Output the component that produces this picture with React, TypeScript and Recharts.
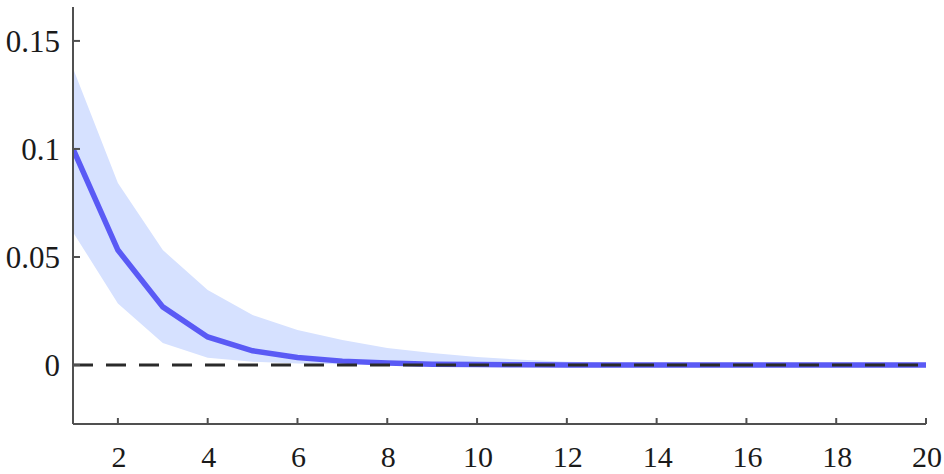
import React from 'react';
import { ComposedChart, Area, Line, XAxis, YAxis, ReferenceLine } from 'recharts';

const periods = [1, 2, 3, 4, 5, 6, 7, 8, 9, 10, 11, 12, 13, 14, 15, 16, 17, 18, 19, 20];
const meanResponse = [0.1, 0.0532, 0.0269, 0.013, 0.0066, 0.0035, 0.0018, 0.0009, 0.0004, 0.0002, 0.0001, 0.00005, 0.00002, 0.00001, 0, 0, 0, 0, 0, 0];
const lowerBand = [0.0615, 0.0285, 0.0102, 0.0034, 0.0015, 0.0007, 0.0003, 0.0001, 0.00005, 0.00002, 0.00001, 0, 0, 0, 0, 0, 0, 0, 0, 0];
const upperBand = [0.1374, 0.0843, 0.0532, 0.0347, 0.0231, 0.0162, 0.0116, 0.0079, 0.0056, 0.0037, 0.0024, 0.0015, 0.001, 0.0006, 0.0004, 0.0002, 0.0001, 0.00005, 0.00002, 0.00001];
const xTicks = [2, 4, 6, 8, 10, 12, 14, 16, 18, 20];
const yTicks = [0, 0.05, 0.1, 0.15];
const yTickLabels = ['0', '0.05', '0.1', '0.15'];

const data = periods.map((p, i) => ({
  period: p,
  mean: meanResponse[i],
  band: [lowerBand[i], upperBand[i]],
}));

const AXIS_COLOR = '#505050';
const FONT = '"Liberation Serif", "Times New Roman", serif';

const YTick = (props: any) => {
  const { x, y, payload } = props;
  const idx = yTicks.indexOf(payload.value);
  const label = idx >= 0 ? yTickLabels[idx] : String(payload.value);
  return (
    <g>
      <line x1={x} y1={y} x2={x + 7} y2={y} stroke={AXIS_COLOR} strokeWidth={2} />
      <text x={x - 13} y={y} dy="0.35em" textAnchor="end" fontFamily={FONT} fontSize={31} fill="#1a1a1a">
        {label}
      </text>
    </g>
  );
};

const XTick = (props: any) => {
  const { x, y, payload } = props;
  return (
    <g>
      <line x1={x} y1={y} x2={x} y2={y - 6} stroke={AXIS_COLOR} strokeWidth={2} />
      <text x={x + 1} y={y + 43} textAnchor="middle" fontFamily={FONT} fontSize={30} fill="#1a1a1a">
        {String(payload.value)}
      </text>
    </g>
  );
};

export default function App() {
  return (
    <div style={{ position: 'absolute', left: 0, top: 0, background: '#fff' }}>
      <ComposedChart width={944} height={474} data={data} margin={{ top: 7, right: 18, bottom: 0, left: 0 }}>
        <XAxis
          dataKey="period"
          type="number"
          domain={[1, 20]}
          ticks={xTicks}
          allowDataOverflow
          height={50}
          tickSize={0}
          tickMargin={0}
          tickLine={false}
          axisLine={{ stroke: AXIS_COLOR, strokeWidth: 2 }}
          tick={XTick}
          interval={0}
        />
        <YAxis
          type="number"
          domain={[-0.0273, 0.1657]}
          ticks={yTicks}
          allowDataOverflow
          width={73}
          tickSize={0}
          tickMargin={0}
          tickLine={false}
          axisLine={{ stroke: AXIS_COLOR, strokeWidth: 2 }}
          tick={YTick}
          interval={0}
        />
        <Area
          dataKey="band"
          type="linear"
          fill="#D6E1FF"
          fillOpacity={1}
          stroke="none"
          isAnimationActive={false}
          activeDot={false}
        />
        <Line
          dataKey="mean"
          type="linear"
          stroke="#5A5AF5"
          strokeWidth={5.5}
          dot={false}
          activeDot={false}
          isAnimationActive={false}
        />
        <ReferenceLine y={0} stroke="#2a2a2a" strokeWidth={3} strokeDasharray="20 13" ifOverflow="extendDomain" />
      </ComposedChart>
    </div>
  );
}
